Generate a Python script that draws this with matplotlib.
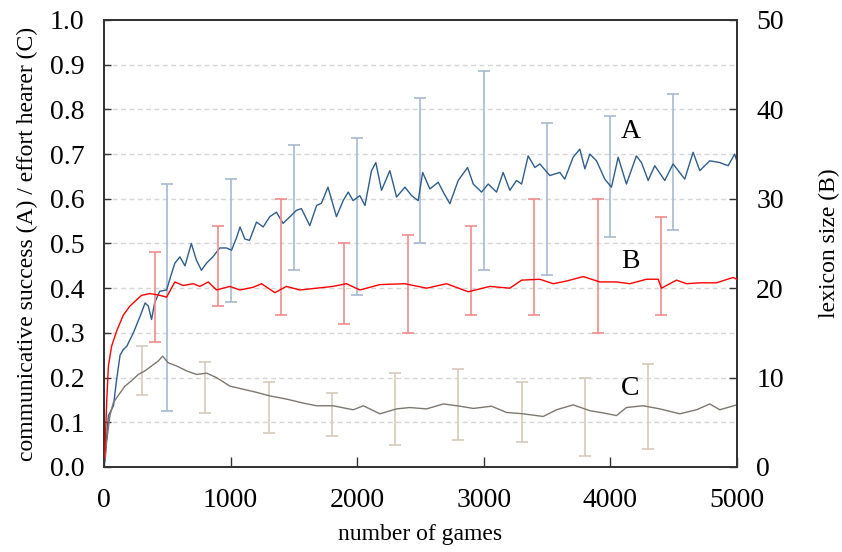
import matplotlib
matplotlib.use("Agg")
import matplotlib.pyplot as plt

plt.rcParams['font.family'] = ['Liberation Serif', 'DejaVu Serif']
plt.rcParams['font.size'] = 20

# A: communicative success (left axis)
a_x = [0, 8, 35, 75, 100, 127, 153, 180, 232, 285, 325, 350, 376, 400, 440, 495,
       520, 560, 600, 640, 690, 730, 770, 810, 860, 915, 968, 1008, 1050, 1075,
       1113, 1150, 1205, 1258, 1310, 1363, 1415, 1470, 1520, 1560, 1626, 1680,
       1718, 1770, 1837, 1890, 1930, 1968, 2022, 2062, 2114, 2148, 2193, 2259,
       2312, 2378, 2431, 2483, 2518, 2575, 2641, 2681, 2733, 2799, 2873, 2918,
       2983, 3036, 3102, 3154, 3207, 3260, 3300, 3352, 3405, 3444, 3523, 3602,
       3641, 3707, 3760, 3800, 3839, 3892, 3957, 4010, 4063, 4128, 4207, 4247,
       4300, 4352, 4431, 4497, 4589, 4655, 4708, 4787, 4866, 4932, 4984, 5000]
a_y = [0.03, 0.02, 0.115, 0.137, 0.196, 0.25, 0.263, 0.27, 0.30, 0.337, 0.367,
       0.36, 0.33, 0.367, 0.393, 0.396, 0.42, 0.456, 0.47, 0.45, 0.50, 0.463,
       0.44, 0.456, 0.47, 0.49, 0.49, 0.485, 0.515, 0.537, 0.51, 0.507, 0.548,
       0.537, 0.56, 0.57, 0.545, 0.56, 0.574, 0.578, 0.54, 0.585, 0.59, 0.626,
       0.56, 0.596, 0.615, 0.596, 0.607, 0.585, 0.663, 0.681, 0.619, 0.663,
       0.604, 0.626, 0.607, 0.596, 0.659, 0.622, 0.637, 0.615, 0.589, 0.641,
       0.670, 0.633, 0.615, 0.633, 0.615, 0.659, 0.619, 0.641, 0.633, 0.696,
       0.670, 0.678, 0.652, 0.659, 0.644, 0.693, 0.711, 0.667, 0.70, 0.685,
       0.644, 0.626, 0.693, 0.633, 0.696, 0.681, 0.641, 0.674, 0.641, 0.678,
       0.644, 0.704, 0.663, 0.685, 0.681, 0.674, 0.70, 0.685]

# B: lexicon size (right axis)
b_x = [0, 8, 21, 35, 60, 100, 153, 205, 258, 297, 363, 442, 495, 560, 626, 705,
       758, 824, 889, 994, 1073, 1178, 1245, 1350, 1442, 1547, 1679, 1810, 1916,
       2022, 2180, 2378, 2549, 2707, 2878, 3049, 3207, 3300, 3444, 3549, 3655,
       3787, 3918, 4050, 4155, 4287, 4379, 4405, 4524, 4603, 4708, 4840, 4971, 5000]
b_y = [1.0, 2.0, 7.2, 11.3, 13.5, 15.2, 17.0, 18.0, 18.7, 19.2, 19.4, 19.2, 19.0,
       20.7, 20.3, 20.5, 20.2, 20.7, 19.8, 20.2, 19.8, 20.1, 20.5, 19.5, 20.2,
       19.8, 20.0, 20.2, 20.5, 19.8, 20.4, 20.5, 20.0, 20.5, 19.6, 20.2, 20.0,
       20.9, 21.0, 20.5, 20.8, 21.3, 20.7, 20.7, 20.5, 21.0, 21.0, 20.0, 20.9,
       20.5, 20.6, 20.6, 21.2, 21.0]

# C: effort hearer (left axis)
c_x = [0, 8, 21, 47, 74, 113, 166, 218, 271, 324, 376, 429, 463, 508, 574, 653,
       732, 811, 889, 994, 1100, 1205, 1310, 1442, 1573, 1679, 1810, 1916, 1970,
       2049, 2180, 2312, 2417, 2549, 2681, 2813, 2918, 3062, 3181, 3312, 3470,
       3576, 3707, 3839, 3944, 4050, 4128, 4260, 4392, 4550, 4682, 4787, 4866, 5000]
c_y = [0.03, 0.011, 0.056, 0.115, 0.144, 0.16, 0.181, 0.193, 0.207, 0.215, 0.226,
       0.237, 0.248, 0.233, 0.226, 0.215, 0.207, 0.21, 0.20, 0.181, 0.174, 0.167,
       0.159, 0.152, 0.143, 0.137, 0.137, 0.131, 0.128, 0.137, 0.119, 0.13, 0.133,
       0.13, 0.141, 0.136, 0.131, 0.136, 0.122, 0.119, 0.113, 0.128, 0.139, 0.126,
       0.121, 0.115, 0.133, 0.137, 0.13, 0.119, 0.128, 0.141, 0.128, 0.139]

# error bar ranges (low, high)
a_err_x = [500, 1000, 1500, 2000, 2500, 3000, 3500, 4000, 4500]
a_err_lo = [0.126, 0.37, 0.44, 0.385, 0.50, 0.44, 0.43, 0.515, 0.53]
a_err_hi = [0.632, 0.645, 0.72, 0.735, 0.825, 0.885, 0.77, 0.785, 0.835]

b_err_x = [400, 900, 1400, 1900, 2400, 2900, 3400, 3900, 4400]
b_err_lo = [14, 18, 17, 16, 15, 17, 17, 15, 17]
b_err_hi = [24, 27, 30, 25, 26, 27, 30, 30, 28]

c_err_x = [300, 800, 1300, 1800, 2300, 2800, 3300, 3800, 4300]
c_err_lo = [0.16, 0.12, 0.075, 0.07, 0.05, 0.06, 0.055, 0.025, 0.04]
c_err_hi = [0.27, 0.235, 0.19, 0.165, 0.21, 0.22, 0.19, 0.20, 0.23]


def draw_err(axis, xs, lo, hi, color):
    mid = [(l + h) / 2 for l, h in zip(lo, hi)]
    half = [(h - l) / 2 for l, h in zip(lo, hi)]
    axis.errorbar(xs, mid, yerr=half, fmt='none', ecolor=color, elinewidth=1.2,
                  capsize=4.5, capthick=1.2, zorder=2)


fig = plt.figure(figsize=(8.42, 5.52), dpi=100)
ax = fig.add_axes([0.1235, 0.154, 0.7515, 0.8098])
ax2 = ax.twinx()

ax.set_xlim(0, 5000)
ax.set_ylim(0, 1.0)
ax2.set_ylim(0, 50)

for v in [i / 10 for i in range(1, 10)]:
    ax.axhline(v, color='#d6d6d6', lw=1, ls=(0, (3.5, 2.5)), zorder=0)

draw_err(ax, a_err_x, a_err_lo, a_err_hi, '#a7bad2')
draw_err(ax, c_err_x, c_err_lo, c_err_hi, '#d6cbbb')
draw_err(ax2, b_err_x, b_err_lo, b_err_hi, '#f08c8c')

ax.plot(a_x, a_y, color='#2f5d8a', lw=1.0, zorder=3)
ax.plot(c_x, c_y, color='#7d786f', lw=1.0, zorder=3)
ax2.plot(b_x, b_y, color='#ff0000', lw=1.0, zorder=3)

ax.text(4160, 0.75, 'A', fontsize=20, ha='center', va='center')
ax.text(4160, 0.46, 'B', fontsize=20, ha='center', va='center')
ax.text(4160, 0.175, 'C', fontsize=20, ha='center', va='center')

ax.set_xticks([0, 1000, 2000, 3000, 4000, 5000])
ax.set_yticks([i / 10 for i in range(11)])
ax.set_yticklabels([f'{i / 10:.1f}' for i in range(11)])
ax2.set_yticks([0, 10, 20, 30, 40, 50])

ax.tick_params(axis='x', direction='in', length=7, width=1, color='#333333', pad=15)
ax.tick_params(axis='y', direction='in', length=5, width=1, color='#333333', pad=14)
ax2.tick_params(axis='y', direction='in', length=6, width=1, color='#333333', pad=14)

for a in (ax, ax2):
    for s in a.spines.values():
        s.set_color('#333333')
        s.set_linewidth(1.3)

ax.set_xlabel('number of games', fontsize=17)
ax.set_ylabel('communicative success (A) / effort hearer (C)', fontsize=17)
ax2.set_ylabel('lexicon size (B)', fontsize=17)
ax.xaxis.set_label_coords(0.5, -0.128)
ax.yaxis.set_label_coords(-0.104, 0.5)
ax2.yaxis.set_label_coords(1.13, 0.5)

fig.savefig('out.png', dpi=100)
